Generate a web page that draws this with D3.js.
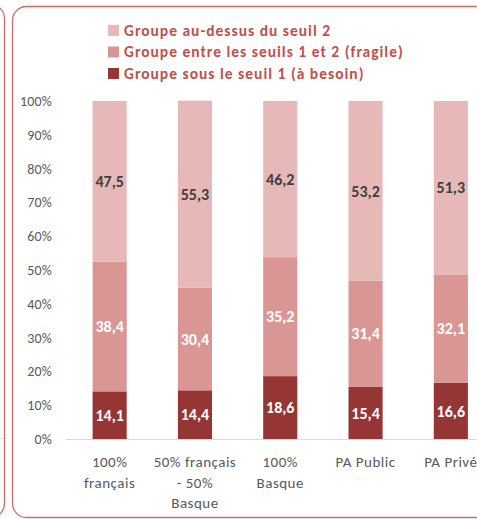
<!DOCTYPE html>
<html>
<head>
<meta charset="utf-8">
<script src="https://cdn.jsdelivr.net/npm/d3@7"></script>
<style>
  html, body { margin: 0; padding: 0; background: #fff; }
  svg { display: block; }
</style>
</head>
<body>
<div id="chart"></div>
<script>

// categories, one line per label row
var categories = ["100% français", "50% français - 50% Basque", "100% Basque", "PA Public", "PA Privé"];
var categoryLines = [["100%", "français"], ["50% français", "- 50%", "Basque"], ["100%", "Basque"], ["PA Public"], ["PA Privé"]];

// series values (%)
var sousSeuil1 = [14.1, 14.4, 18.6, 15.4, 16.6];
var entreSeuils = [38.4, 30.4, 35.2, 31.4, 32.1];
var auDessus = [47.5, 55.3, 46.2, 53.2, 51.3];

var seriesNames = ["Groupe sous le seuil 1 (à besoin)", "Groupe entre les seuils 1 et 2 (fragile)", "Groupe au-dessus du seuil 2"];
var yTicks = [0, 10, 20, 30, 40, 50, 60, 70, 80, 90, 100];

var drawChart = function(){

    // Settings
    var width = 477, height = 519;
    var fontFamily = "Carlito, Lato, 'Liberation Sans', sans-serif";
    var colors = ["#963634", "#da9694", "#e6b8b7"];
    var labelColors = ["#ffffff", "#ffffff", "#404040"];
    var borderColor = "#d06b6b";
    var textGray = "#595959";

    var svg = d3.select("#chart").append("svg")
        .attr("width", width)
        .attr("height", height);

    // neighbouring panel edge + its axis stub
    svg.append("rect")
        .attr("x", -20).attr("y", 5).attr("width", 24.5).attr("height", 512)
        .attr("rx", 14)
        .attr("fill", "none").attr("stroke", borderColor).attr("stroke-width", 1.3);
    svg.append("line")
        .attr("x1", 0).attr("x2", 3.5).attr("y1", 438.5).attr("y2", 438.5)
        .attr("stroke", "#d9d9d9");

    // chart frame
    svg.append("rect")
        .attr("x", 12.5).attr("y", 6.5).attr("width", 520).attr("height", 511)
        .attr("rx", 14)
        .attr("fill", "none").attr("stroke", borderColor).attr("stroke-width", 1.3);

    // build stacked table
    var table = categories.map(function(c, i){
        return { key: c, lines: categoryLines[i], v0: sousSeuil1[i], v1: entreSeuils[i], v2: auDessus[i] };
    });
    var stack = d3.stack().keys(["v0", "v1", "v2"])(table);

    var x = d3.scaleBand()
        .domain(categories)
        .range([67, 493.5])
        .paddingInner(0.6)
        .paddingOuter(0.3);
    var y = d3.scaleLinear()
        .domain([0, 100])
        .range([439, 101]);

    // y axis labels (no line)
    var yAxis = svg.append("g")
        .attr("transform", "translate(67,0)")
        .call(d3.axisLeft(y).tickValues(yTicks).tickSize(0).tickPadding(15).tickFormat(function(d){ return d + "%"; }));
    yAxis.select(".domain").remove();
    yAxis.selectAll("text")
        .attr("fill", textGray)
        .attr("font-family", fontFamily)
        .attr("font-size", 14)
        .attr("letter-spacing", 0.2);

    // bars
    var groups = svg.append("g").selectAll("g")
        .data(stack)
        .join("g")
        .attr("fill", function(d, i){ return colors[i]; });

    groups.selectAll("rect")
        .data(function(d){ return d; })
        .join("rect")
        .attr("x", function(d){ return x(d.data.key); })
        .attr("width", x.bandwidth())
        .attr("y", function(d){ return y(d[1]); })
        .attr("height", function(d){ return y(d[0]) - y(d[1]); });

    // value labels
    stack.forEach(function(s, si){
        svg.append("g").selectAll("text")
            .data(s)
            .join("text")
            .attr("x", function(d){ return x(d.data.key) + x.bandwidth() / 2; })
            .attr("y", function(d){ return (y(d[0]) + y(d[1])) / 2; })
            .attr("dy", "0.35em")
            .attr("text-anchor", "middle")
            .attr("fill", labelColors[si])
            .attr("font-family", fontFamily)
            .attr("font-weight", "bold")
            .attr("font-size", 16)
            .text(function(d){ return String(d.data[s.key]).replace(".", ","); });
    });

    // x axis line
    svg.append("line")
        .attr("x1", 66).attr("x2", width)
        .attr("y1", 439.5).attr("y2", 439.5)
        .attr("stroke", "#d9d9d9");

    // category labels
    svg.append("g").selectAll("text")
        .data(table)
        .join("text")
        .attr("x", function(d){ return x(d.key) + x.bandwidth() / 2; })
        .attr("y", 467)
        .attr("text-anchor", "middle")
        .attr("fill", textGray)
        .attr("font-family", fontFamily)
        .attr("font-size", 15)
        .attr("letter-spacing", 0.5)
        .each(function(d){
            var t = d3.select(this);
            d.lines.forEach(function(l, i){
                t.append("tspan")
                    .attr("x", x(d.key) + x.bandwidth() / 2)
                    .attr("dy", i === 0 ? 0 : 20.5)
                    .text(l);
            });
        });

    // legend (top row = top of stack)
    var legendOrder = [2, 1, 0];
    var legend = svg.append("g").selectAll("g")
        .data(legendOrder)
        .join("g")
        .attr("transform", function(d, i){ return "translate(108," + (25 + i * 21.5) + ")"; });
    legend.append("rect")
        .attr("width", 11).attr("height", 11)
        .attr("fill", function(d){ return colors[d]; });
    legend.append("text")
        .attr("x", 16)
        .attr("y", 5.5)
        .attr("dy", "0.35em")
        .attr("fill", "#c0504d")
        .attr("font-family", fontFamily)
        .attr("font-weight", "bold")
        .attr("font-size", 15.5)
        .attr("letter-spacing", 1)
        .text(function(d){ return seriesNames[d]; });
};

window.addEventListener("load", drawChart);
</script>
</body>
</html>
